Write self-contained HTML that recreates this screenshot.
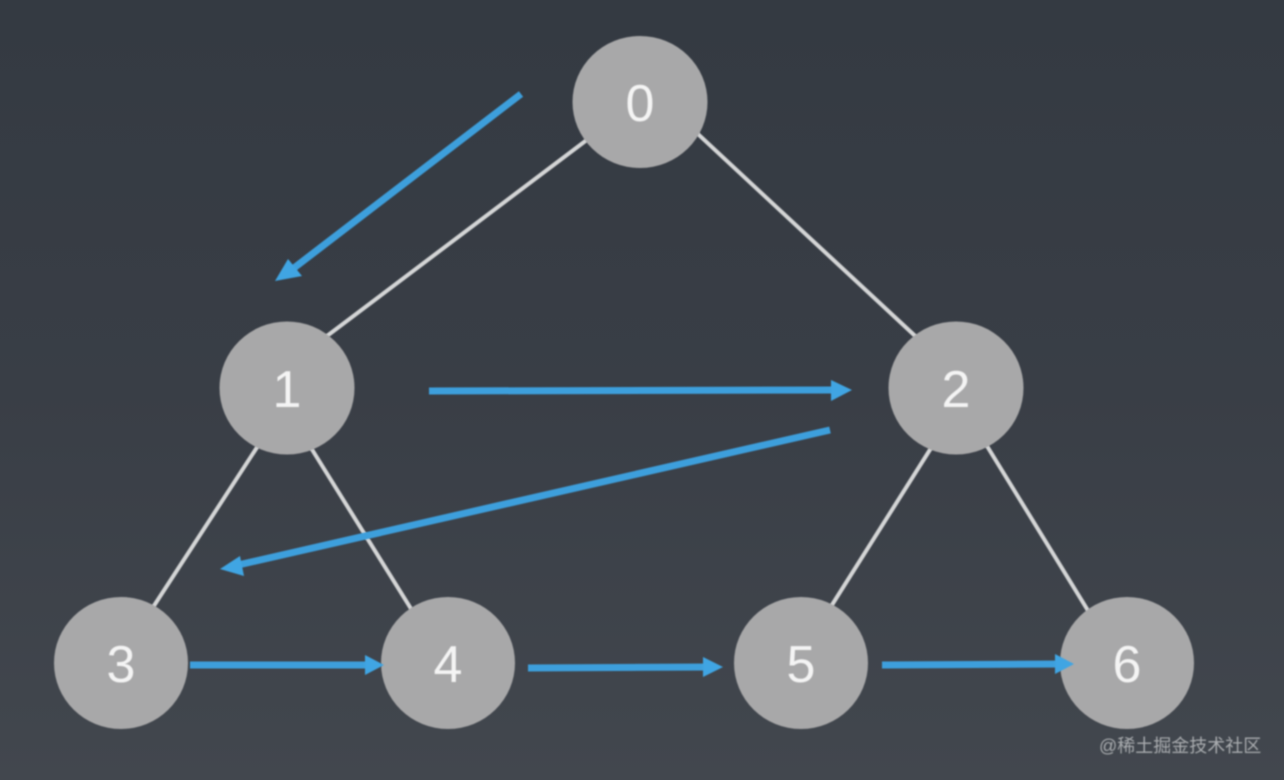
<!DOCTYPE html>
<html>
<head>
<meta charset="utf-8">
<style>
html,body{margin:0;padding:0;width:1284px;height:780px;overflow:hidden;background:#3a4048}
svg{display:block}
</style>
</head>
<body>
<svg width="1284" height="780" viewBox="0 0 1284 780" xmlns="http://www.w3.org/2000/svg">
<defs>
<linearGradient id="bg" x1="0" y1="0" x2="0" y2="1">
<stop offset="0" stop-color="#343a42"/>
<stop offset="0.5" stop-color="#393e46"/>
<stop offset="1" stop-color="#42474e"/>
</linearGradient>
<filter id="b" x="-10%" y="-10%" width="120%" height="120%"><feGaussianBlur stdDeviation="0.9"/></filter>
</defs>
<rect width="1284" height="780" fill="url(#bg)"/>
<g stroke="#d4d5d6" stroke-width="4" fill="none" filter="url(#b)">
<line x1="600" y1="130" x2="315" y2="345"/>
<line x1="685" y1="122" x2="927" y2="347"/>
<line x1="265" y1="435" x2="146" y2="618"/>
<line x1="303" y1="435" x2="418" y2="620"/>
<line x1="938" y1="437" x2="825" y2="616"/>
<line x1="979" y1="433" x2="1095" y2="622"/>
</g>
<g fill="#a8a8a9" filter="url(#b)">
<ellipse cx="640" cy="102" rx="67.5" ry="66"/>
<ellipse cx="287" cy="388" rx="67.5" ry="66.500"/>
<ellipse cx="956" cy="388" rx="67.500" ry="66.500"/>
<ellipse cx="121" cy="663" rx="67" ry="66"/>
<ellipse cx="448" cy="663" rx="67" ry="66"/>
<ellipse cx="801" cy="663" rx="67" ry="66"/>
<ellipse cx="1127" cy="663" rx="67" ry="66"/>
</g>
<g font-family="'Liberation Sans',sans-serif" font-size="52" fill="#f4f4f4" text-anchor="middle" filter="url(#b)">
<text x="640" y="121">0</text>
<text x="287" y="407">1</text>
<text x="956" y="407">2</text>
<text x="121" y="682">3</text>
<text x="448" y="682">4</text>
<text x="801" y="682">5</text>
<text x="1127" y="682">6</text>
</g>
<g stroke="#3d9fdc" stroke-width="7" fill="none" stroke-linecap="butt" filter="url(#b)">
<line x1="521" y1="94" x2="290" y2="271"/>
<line x1="429" y1="391" x2="835" y2="390"/>
<line x1="830" y1="430" x2="238" y2="565"/>
<line x1="190" y1="665" x2="370" y2="665"/>
<line x1="528" y1="668" x2="708" y2="667"/>
<line x1="882" y1="665" x2="1060" y2="664"/>
</g>
<g fill="#3fa5e3" filter="url(#b)">
<polygon points="275,281 288,259 302,276"/>
<polygon points="852,390 831,380 831,401"/>
<polygon points="220,569 240,556 244,576"/>
<polygon points="384,665 365,655 365,675"/>
<polygon points="723,667 703,657 703,677"/>
<polygon points="1074,664 1055,654 1055,674"/>
</g>
<text x="1099" y="752" font-family="'Liberation Sans','Noto Sans CJK SC',sans-serif" font-size="18" fill="#a9acaf" filter="url(#b)">@稀土掘金技术社区</text>
</svg>
</body>
</html>
